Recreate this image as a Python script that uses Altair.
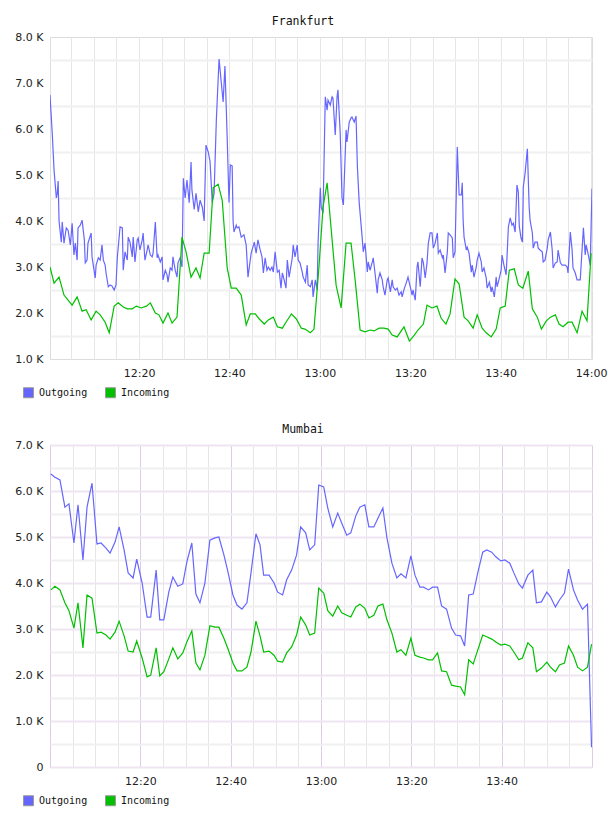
import altair as alt
import pandas as pd

# ---- Frankfurt: minutes after 12:00 and traffic values ----
frankfurt_out_min = [0.3, 0.8, 1.2, 1.7, 1.9, 2.1, 2.3, 2.8, 3.0, 3.4, 3.9, 4.3, 4.8, 5.2, 5.6, 5.9, 6.3, 6.5, 7.0, 7.4,
                     7.9, 8.1, 8.5, 8.7, 9.4, 9.6, 10.3, 10.5, 11.0, 11.4, 11.8, 12.1, 12.5, 12.7, 13.2, 13.6, 14.0, 14.5, 14.9, 15.2,
                     15.8, 16.3, 16.5, 16.9, 17.4, 17.6, 18.0, 18.5, 18.7, 19.1, 19.6, 19.8, 20.2, 20.7, 20.9, 21.3, 21.8, 22.0, 22.5, 22.9,
                     23.1, 23.6, 24.0, 24.2, 24.7, 25.1, 25.3, 25.8, 26.2, 26.4, 26.9, 27.3, 27.5, 28.0, 28.4, 28.6, 29.1, 29.5, 29.8, 30.2,
                     30.6, 31.1, 31.5, 31.7, 32.2, 32.6, 33.1, 33.5, 34.0, 34.4, 34.8, 35.3, 35.7, 36.2, 36.6, 37.1, 37.7, 38.2, 38.6, 39.0,
                     39.5, 39.9, 40.2, 40.6, 40.8, 41.0, 41.5, 41.7, 42.1, 42.6, 43.2, 43.7, 44.1, 44.8, 45.5, 45.9, 46.3, 46.8, 47.2, 47.5,
                     47.9, 48.3, 48.6, 49.0, 49.4, 49.7, 50.1, 50.6, 51.0, 51.4, 51.7, 52.1, 52.5, 52.8, 53.2, 53.9, 54.1, 54.5, 55.0, 55.2,
                     55.6, 56.1, 56.3, 56.8, 57.2, 57.4, 57.9, 58.3, 58.5, 59.0, 59.4, 59.6, 60.1, 60.3, 60.7, 61.2, 61.6, 61.8, 62.3, 62.7,
                     62.9, 63.4, 63.8, 64.0, 64.5, 64.9, 65.2, 65.8, 66.0, 66.5, 66.9, 67.1, 67.6, 68.0, 68.3, 68.7, 69.4, 69.6, 70.0, 70.5,
                     70.7, 71.1, 71.6, 71.8, 72.2, 72.7, 72.9, 73.3, 73.8, 74.0, 74.4, 74.9, 75.1, 75.6, 76.0, 76.2, 76.7, 77.1, 77.5, 78.0,
                     78.2, 78.7, 79.1, 79.5, 80.0, 80.4, 80.6, 81.1, 81.5, 81.7, 82.2, 82.6, 82.9, 83.3, 83.7, 84.0, 84.4, 84.8, 85.1, 85.5,
                     86.0, 86.2, 86.6, 87.1, 87.3, 87.7, 88.2, 88.4, 88.8, 89.3, 89.5, 89.9, 90.4, 90.8, 91.3, 91.5, 91.7, 91.9, 92.4, 92.6,
                     93.0, 93.5, 93.7, 94.1, 94.6, 94.8, 95.2, 95.7, 95.9, 96.3, 96.8, 97.0, 97.5, 97.9, 98.1, 98.6, 99.0, 99.2, 99.7, 100.1,
                     100.3, 100.8, 101.2, 101.4, 101.7, 102.1, 102.5, 102.8, 103.2, 103.6, 103.9, 104.1, 104.5, 104.8, 105.0, 105.4, 105.9, 106.3, 106.5, 107.0,
                     107.2, 107.6, 108.1, 108.3, 108.7, 109.2, 109.4, 109.8, 110.3, 110.5, 111.0, 111.4, 111.6, 112.1, 112.5, 112.7, 113.2, 113.6, 113.8, 114.3,
                     114.7, 114.9, 115.4, 115.8, 116.0, 116.5, 116.9, 117.1, 117.6, 118.0, 118.3, 118.7, 118.9, 119.4, 119.8, 120.2]
frankfurt_out = [6740, 5900, 5100, 4500, 4600, 4870, 4000, 3540, 3980, 3520, 3850, 3800, 3480, 3950, 3260, 3520, 3150, 3850, 3910, 4020,
                 3590, 3090, 3150, 3520, 3740, 3220, 2760, 3040, 3200, 3150, 3480, 3150, 3040, 2870, 2570, 2610, 2590, 2500, 2610, 3220,
                 3870, 3850, 2930, 3330, 3150, 3650, 3540, 3220, 3650, 3110, 3590, 3630, 3370, 3590, 3740, 3150, 3370, 3480, 3260, 3220,
                 3300, 3980, 3200, 3260, 3110, 3220, 2720, 2930, 2830, 2670, 2980, 2930, 3220, 2930, 2780, 3090, 3200, 3000, 4930, 4500,
                 4890, 4400, 5280, 4670, 4250, 4600, 4200, 4450, 4300, 4000, 5650, 5500, 5300, 4400, 4600, 6200, 7520, 7000, 6590, 7370,
                 5800, 4400, 5220, 5200, 4000, 3760, 3910, 3850, 3870, 3650, 3700, 3480, 2780, 3300, 3540, 3300, 3590, 3370, 3220, 2870,
                 3200, 2930, 3000, 2930, 3000, 2890, 3330, 2890, 2930, 2540, 2870, 2720, 2540, 3150, 2780, 3200, 3480, 3220, 3480, 3150,
                 3090, 2890, 2780, 2670, 3040, 2610, 2570, 2720, 2350, 2720, 2500, 3520, 4720, 4300, 4170, 6700, 6410, 6630, 6520, 6700,
                 6670, 5870, 6700, 6850, 5910, 4500, 4350, 5980, 5720, 6150, 6240, 6260, 6150, 6280, 5180, 4400, 3590, 3330, 3520, 2890,
                 3110, 2930, 3110, 3200, 2870, 2430, 2720, 2870, 2720, 2570, 2390, 2720, 2760, 2460, 2720, 2570, 2500, 2540, 2390, 2460,
                 2350, 2540, 2650, 2780, 2570, 2390, 2500, 2280, 3000, 3110, 2570, 3200, 3090, 2760, 3090, 3520, 3740, 3740, 3410, 3520,
                 3740, 3300, 3370, 3200, 3260, 2870, 3330, 3740, 3700, 3630, 3200, 3330, 5610, 4570, 4570, 4830, 4000, 3650, 3370, 3430,
                 3300, 2890, 3040, 2780, 3000, 3150, 3300, 3110, 2890, 2980, 2760, 2540, 2670, 2460, 2570, 2350, 2780, 2570, 2760, 2930,
                 3260, 3000, 2830, 3220, 3870, 4070, 3910, 3950, 3760, 4780, 4630, 3900, 3630, 3540, 4740, 5040, 5570, 4300, 4020, 3740,
                 3410, 3540, 3540, 3410, 3370, 3330, 3110, 3150, 3410, 3590, 3760, 3370, 2980, 3090, 3110, 3370, 3090, 3040, 3040, 3040,
                 3000, 2870, 3760, 3370, 2980, 2870, 2720, 2720, 2720, 3370, 3850, 3260, 3480, 3260, 3040, 4700]

frankfurt_in_min = [0.3, 1.2, 2.3, 3.4, 4.3, 5.2, 6.3, 7.4, 8.3, 9.4, 10.5, 11.4, 12.5, 13.4, 14.5, 15.4, 16.5, 17.4, 18.5, 19.4,
                    20.5, 21.6, 22.5, 23.6, 24.4, 25.3, 26.4, 27.3, 28.4, 29.5, 30.4, 31.5, 32.6, 33.5, 34.4, 35.5, 36.4, 37.5, 38.4, 39.5,
                    40.4, 41.5, 42.6, 43.7, 44.6, 45.7, 46.6, 47.7, 48.6, 49.7, 50.6, 51.7, 52.5, 53.7, 54.8, 55.9, 56.7, 57.9, 58.7, 59.8,
                    60.7, 61.6, 62.7, 63.6, 64.7, 65.8, 66.9, 67.8, 68.9, 70.0, 71.1, 72.0, 73.1, 74.2, 75.1, 76.0, 77.1, 78.6, 79.8, 80.9,
                    81.7, 82.9, 83.7, 84.8, 85.9, 86.8, 87.9, 88.8, 89.9, 90.8, 91.9, 92.8, 93.9, 94.8, 95.9, 96.8, 97.9, 99.0, 99.9, 101.0,
                    101.9, 103.0, 103.9, 104.9, 106.1, 107.0, 108.1, 109.0, 110.1, 111.0, 112.1, 112.9, 113.8, 114.9, 115.8, 116.9, 118.0, 119.1, 120.0]
frankfurt_in = [3000, 2650, 2780, 2390, 2280, 2170, 2350, 2040, 2070, 1850, 2040, 1960, 1800, 1570, 2150, 2220, 2130, 2090, 2090, 2150,
                2110, 2150, 2220, 2000, 1960, 1780, 2000, 1780, 1910, 3650, 3330, 2780, 2980, 2760, 3300, 3300, 4720, 4800, 4450, 2980,
                2540, 2540, 2390, 1740, 1980, 1980, 1870, 1760, 1850, 1910, 1700, 1670, 1800, 1980, 1870, 1670, 1650, 1570, 1650, 3000,
                4300, 4830, 3600, 2600, 2110, 3520, 3520, 2720, 1630, 1590, 1630, 1610, 1670, 1670, 1650, 1520, 1480, 1700, 1390, 1520,
                1630, 1760, 2170, 2110, 2150, 1890, 1760, 1980, 2740, 2630, 1910, 1830, 1670, 1960, 1670, 1570, 1480, 1650, 2110, 2150,
                2930, 2960, 2610, 2540, 2910, 2090, 1910, 1650, 1830, 1910, 1960, 1760, 1700, 1800, 1800, 1570, 2040, 1830, 3300]

# ---- Mumbai: one sample a minute ----
mumbai_min = [0.2, 1.1, 2.2, 3.3, 4.2, 5.3, 6.2, 7.3, 8.2, 9.3, 10.4, 11.3, 12.4, 13.3, 14.4, 15.3, 16.4, 17.3, 18.4, 19.2,
              20.4, 21.5, 22.3, 23.5, 24.3, 25.2, 26.3, 27.2, 28.3, 29.4, 30.3, 31.4, 32.3, 33.2, 34.3, 35.4, 36.5, 37.4, 38.5, 39.4,
              40.5, 41.4, 42.5, 43.6, 44.5, 45.6, 46.5, 47.3, 48.5, 49.6, 50.4, 51.5, 52.4, 53.5, 54.6, 55.5, 56.6, 57.5, 58.6, 59.5,
              60.6, 61.5, 62.6, 63.7, 64.6, 65.7, 66.6, 67.7, 68.6, 69.7, 70.6, 71.7, 72.6, 73.7, 74.6, 75.7, 76.8, 77.7, 78.8, 79.9,
              80.8, 81.9, 82.7, 83.8, 84.7, 85.8, 86.7, 87.8, 88.9, 89.8, 90.9, 91.8, 92.7, 93.7, 94.7, 95.8, 96.7, 97.8, 98.7, 99.8,
              100.7, 101.8, 102.7, 103.8, 104.6, 105.8, 106.9, 107.7, 108.8, 110.0, 110.8, 111.9, 112.8, 113.9, 114.8, 115.9, 116.8, 117.9, 119.0, 119.9]
mumbai_out = [6370, 6300, 6240, 5650, 5720, 4870, 5700, 4500, 5650, 6170, 4850, 4870, 4760, 4650, 4890, 5220, 4720, 4220, 4110, 4520,
              4000, 3260, 3260, 4280, 3200, 3200, 3800, 4130, 3930, 3980, 4460, 4870, 3760, 3570, 4000, 4930, 4980, 5000, 4610, 4240,
              3740, 3520, 3430, 3570, 4220, 5070, 4830, 4170, 4170, 4000, 3800, 3740, 4070, 4280, 4610, 5220, 5090, 4720, 4830, 6130,
              6090, 5630, 5220, 5520, 5300, 5040, 5090, 5460, 5650, 5700, 5220, 5220, 5410, 5630, 4980, 4430, 4110, 4200, 4110, 4590,
              4170, 3910, 3910, 3850, 3910, 3910, 3500, 3430, 3020, 2870, 2850, 2630, 3740, 3760, 4220, 4670, 4720, 4670, 4570, 4480,
              4500, 4430, 4220, 3980, 3890, 4170, 4280, 3570, 3590, 3800, 3700, 3480, 3630, 3780, 4300, 3850, 3630, 3430, 3540, 430]
mumbai_in = [3850, 3930, 3850, 3570, 3400, 3020, 3570, 2590, 3740, 3670, 2910, 2930, 2870, 2780, 2930, 3170, 2850, 2520, 2500, 2740,
             2370, 1960, 2000, 2590, 1980, 2070, 2350, 2590, 2350, 2480, 2720, 2960, 2260, 2110, 2430, 3070, 3040, 3040, 2800, 2570,
             2260, 2090, 2090, 2170, 2500, 3170, 2850, 2500, 2520, 2430, 2300, 2280, 2480, 2610, 2870, 3260, 3090, 2870, 2910, 3890,
             3780, 3400, 3280, 3500, 3350, 3300, 3260, 3480, 3540, 3450, 3240, 3300, 3500, 3540, 3200, 2910, 2500, 2550, 2430, 2800,
             2430, 2390, 2370, 2330, 2330, 2480, 2090, 2070, 1780, 1760, 1740, 1570, 2330, 2240, 2540, 2870, 2830, 2780, 2720, 2650,
             2670, 2630, 2500, 2330, 2370, 2700, 2590, 2070, 2150, 2280, 2170, 2070, 2220, 2260, 2630, 2430, 2170, 2090, 2170, 2670]

SERIES = ["Outgoing", "Incoming"]
SERIES_COLORS = ["#6666ff", "#00c000"]

GRID_GRAY = "#e6e6e6"
GRID_GRAY_LIGHT = "#f0f0f0"
GRID_NONE = "rgba(255,255,255,0)"
GRID_LAVENDER = "#dccde4"
GRID_LAVENDER_LIGHT = "#efe4f2"

Y_LABELS = ("datum.value % 1000 == 0 ? (datum.value == 0 ? '0' : "
            "format(datum.value / 1000, '.1f') + ' K') : ''")


def clock_labels(minutes):
    listed = ",".join(str(m) for m in minutes)
    return (f"indexof([{listed}], datum.value) >= 0 ? "
            "(12 + floor(datum.value / 60)) + ':' + "
            "(datum.value % 60 == 0 ? '00' : '' + (datum.value % 60)) : ''")


def panel(name, out_min, out_val, in_min, in_val, x_domain, x_ticks, x_labels, y_domain,
          x_major, x_minor, y_whole, y_half, title_dx):
    x = alt.X(
        "minute:Q",
        scale=alt.Scale(domain=x_domain, nice=False, zero=False),
        axis=alt.Axis(
            values=x_ticks, labelExpr=clock_labels(x_labels), title=None,
            ticks=False, domain=False, labelFlush=False, labelOverlap=False,
            labelPadding=8, labelFont="DejaVu Sans", labelFontSize=11, labelColor="#222",
            grid=True, gridWidth=1,
            gridColor={"condition": {"test": "datum.value % 20 == 0", "value": x_major},
                       "value": x_minor},
        ),
    )
    y = alt.Y(
        "value:Q",
        scale=alt.Scale(domain=y_domain, nice=False, zero=False),
        axis=alt.Axis(
            values=list(range(y_domain[0], y_domain[1] + 1, 500)), labelExpr=Y_LABELS,
            title=None, ticks=False, domain=False, labelOverlap=False, labelFlush=False,
            labelPadding=7, labelFont="DejaVu Sans", labelFontSize=11, labelColor="#222",
            grid=True, gridWidth=2,
            gridColor={"condition": {"test": "datum.value % 1000 == 0", "value": y_whole},
                       "value": y_half},
        ),
    )
    outgoing = alt.Chart(pd.DataFrame({"minute": out_min, "value": out_val})).mark_line(
        strokeWidth=1.2, color=SERIES_COLORS[0], clip=True
    ).encode(x=x, y=y, order="minute:Q")
    incoming = alt.Chart(pd.DataFrame({"minute": in_min, "value": in_val})).mark_line(
        strokeWidth=1.2, color=SERIES_COLORS[1], clip=True
    ).encode(x=x, y=y, order="minute:Q")
    # legend only: a square layer with no rows, coloured by series name
    key = alt.Chart(pd.DataFrame({"series": SERIES})).transform_filter("false").mark_square(
        filled=True, opacity=1
    ).encode(
        color=alt.Color(
            "series:N", scale=alt.Scale(domain=SERIES, range=SERIES_COLORS),
            legend=alt.Legend(
                orient="none", legendX=-27, legendY=350, direction="horizontal", title=None,
                symbolType="square", symbolSize=100, symbolStrokeColor="#999",
                symbolStrokeWidth=1, symbolOpacity=1,
                labelFont="DejaVu Sans Mono", labelFontSize=10, labelColor="#111",
                labelOffset=5, columnPadding=15, padding=0,
            ),
        ),
    )
    return alt.layer(outgoing, incoming, key).properties(
        width=542, height=322,
        title=alt.TitleParams(name, font="DejaVu Sans Mono", fontSize=11.5, fontWeight="normal",
                              color="#111", anchor="middle", frame="group", dx=title_dx, offset=4),
    )


frankfurt = panel(
    "Frankfurt", frankfurt_out_min, frankfurt_out, frankfurt_in_min, frankfurt_in,
    x_domain=[0.3, 120.2], x_ticks=list(range(5, 121, 5)), x_labels=[20, 40, 60, 80, 100, 120],
    y_domain=[1000, 8000],
    x_major=GRID_GRAY, x_minor=GRID_GRAY, y_whole=GRID_NONE, y_half=GRID_GRAY_LIGHT,
    title_dx=-18,
)

mumbai = panel(
    "Mumbai", mumbai_min, mumbai_out, mumbai_min, mumbai_in,
    x_domain=[0, 120], x_ticks=list(range(0, 121, 5)), x_labels=[20, 40, 60, 80, 100],
    y_domain=[0, 7000],
    x_major=GRID_LAVENDER, x_minor=GRID_GRAY, y_whole=GRID_LAVENDER_LIGHT, y_half=GRID_GRAY_LIGHT,
    title_dx=-18,
)

chart = alt.vconcat(frankfurt, mumbai, spacing=22).resolve_scale(color="independent").properties(
    padding={"left": 14, "top": 15, "right": 0, "bottom": 0},
).configure_view(stroke=None).configure(background="#ffffff")

chart.save("out.html", embed_options={"renderer": "svg", "actions": False})
